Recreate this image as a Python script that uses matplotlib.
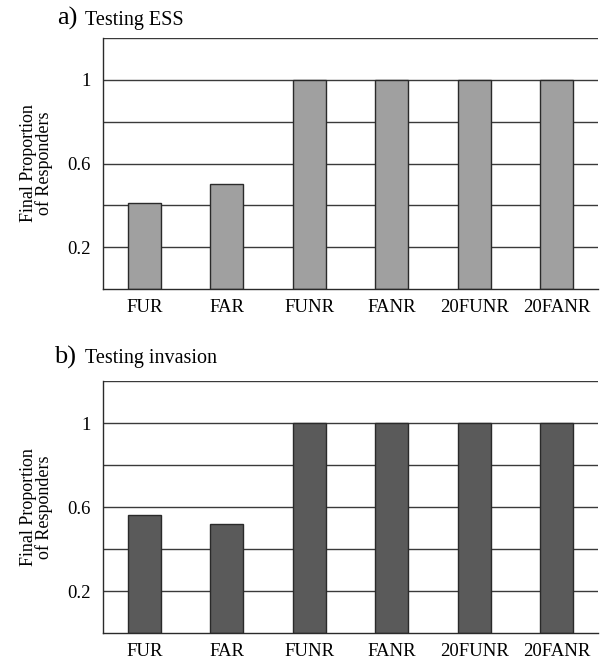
import matplotlib
matplotlib.use("Agg")
import matplotlib.pyplot as plt

categories = ["FUR", "FAR", "FUNR", "FANR", "20FUNR", "20FANR"]
ess_values = [0.41, 0.50, 1.0, 1.0, 1.0, 1.0]
invasion_values = [0.56, 0.52, 1.0, 1.0, 1.0, 1.0]
ytick_vals = [0.2, 0.6, 1.0]
ytick_labels = ["0.2", "0.6", "1"]
grid_vals = [0.2, 0.4, 0.6, 0.8, 1.0, 1.2]

plt.rcParams['font.family'] = ['Liberation Serif', 'DejaVu Serif']

fig = plt.figure(figsize=(6.01, 6.60), dpi=100)
W, H = 601, 660

def make_ax(top_px, bottom_px):
    left, right = 103, 598
    return fig.add_axes([left / W, 1 - bottom_px / H, (right - left) / W, (bottom_px - top_px) / H])

panels = [
    (38, 289, ess_values, "#a0a0a0", "a)", "Testing ESS", 18, 57),
    (381, 633, invasion_values, "#5a5a5a", "b)", "Testing invasion", 357, 54),
]

for top_px, bottom_px, vals, color, letter, title, title_y, letter_x in panels:
    ax = make_ax(top_px, bottom_px)
    x = list(range(len(categories)))
    for g in grid_vals:
        ax.axhline(g, color="#3a3a3a", lw=1.0, zorder=1)
    ax.bar(x, vals, width=0.4, color=color, edgecolor="#2a2a2a", linewidth=1.0, zorder=2)
    ax.set_xlim(-0.5, 5.5)
    ax.set_ylim(0, 1.2)
    ax.set_yticks(ytick_vals)
    ax.set_yticklabels(ytick_labels, fontsize=13.5)
    ax.set_xticks(x)
    ax.set_xticklabels(categories, fontsize=13.5)
    ax.tick_params(axis="both", length=0)
    ax.tick_params(axis="y", pad=9)
    ax.tick_params(axis="x", pad=7)
    for s in ["top", "right"]:
        ax.spines[s].set_visible(False)
    for s in ["left", "bottom"]:
        ax.spines[s].set_color("#2a2a2a")
        ax.spines[s].set_linewidth(1.0)
    ax.set_ylabel("Final Proportion\nof Responders", fontsize=13, linespacing=0.85, labelpad=10)
    fig.text(letter_x / W, 1 - title_y / H, letter, fontsize=19, va="center", ha="left")
    fig.text(85 / W, 1 - (title_y + 2) / H, title, fontsize=14.5, va="center", ha="left")

fig.savefig("out.png", dpi=100)
